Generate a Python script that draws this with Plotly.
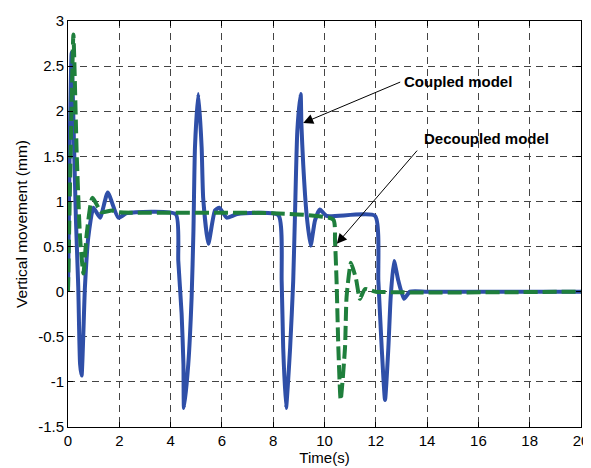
import plotly.graph_objects as go

# ---- data ----
coupled_t = [0, 0.07, 0.14, 0.22, 0.31, 0.4, 0.47, 0.53, 0.66, 0.79, 0.99, 1.25, 1.55, 1.96, 2.3,
             4.2, 4.3, 4.43, 4.5, 4.52, 4.69, 4.82, 4.89, 4.95, 5.08, 5.21, 5.27, 5.47, 5.73, 5.9, 6.19, 6.6,
             8.2, 8.33, 8.39, 8.5, 8.66, 8.78, 8.85, 8.94, 9.07, 9.1, 9.17, 9.3, 9.46, 9.63, 9.82, 10.08,
             11.97, 12.1, 12.23, 12.36, 12.49, 12.58, 12.71, 12.88, 13.1, 13.33, 14, 20]
coupled_y = [0, 1.71, 2.65, 1.8, 0.79, 0.05, -0.8, -0.93, 0.05, 0.6, 0.93, 0.82, 1.10, 0.82, 0.87,
             0.86, 0.34, -0.25, -0.8, -1.29, -0.8, -0.06, 0.67, 1.6, 2.19, 1.6, 1.04, 0.53, 0.9, 0.93, 0.82, 0.86,
             0.85, 0.12, -0.62, -1.29, -0.62, 0.12, 0.86, 1.78, 2.19, 1.85, 1.41, 0.86, 0.51, 0.79, 0.91, 0.84,
             0.84, 0.12, -0.62, -1.2, -0.62, -0.06, 0.34, 0.12, -0.08, 0.0, 0.0, 0.0]

decoupled_t = [0, 0.1, 0.21, 0.34, 0.47, 0.6, 0.73, 0.95, 1.31, 1.7, 2.0, 8.0, 10.34, 10.41, 10.47,
               10.54, 10.63, 10.8, 10.86, 11.03, 11.23, 11.38, 11.58, 12, 20]
decoupled_y = [0, 1.5, 2.85, 1.52, 0.6, 0.2, 0.64, 1.04, 0.88, 0.9, 0.88, 0.87, 0.80, 0.56, 0.12,
               -0.62, -1.2, -0.62, -0.06, 0.32, 0.14, -0.08, 0.03, 0.0, 0.0]

x_ticks = [0, 2, 4, 6, 8, 10, 12, 14, 16, 18, 20]
x_ticktext = ["0", "2", "4", "6", "8", "10", "12", "14", "16", "18", "20"]
y_ticks = [-1.5, -1, -0.5, 0, 0.5, 1, 1.5, 2, 2.5, 3]
y_ticktext = ["-1.5", "-1", "-0.5", "0", "0.5", "1", "1.5", "2", "2.5", "3"]

BLUE = "#2f4fa8"
GREEN = "#1f7f3c"
FONT = "Liberation Sans, Arial, sans-serif"

fig = go.Figure()
fig.add_trace(go.Scatter(x=coupled_t, y=coupled_y, mode="lines", name="Coupled model",
                         line=dict(color=BLUE, width=4, shape="spline", smoothing=0.5)))
fig.add_trace(go.Scatter(x=decoupled_t, y=decoupled_y, mode="lines", name="Decoupled model",
                         line=dict(color=GREEN, width=4, dash="14px,5px", shape="spline", smoothing=0.5)))

axis_common = dict(showline=True, linecolor="black", linewidth=1, mirror="ticks",
                   ticks="inside", ticklen=5, tickcolor="black", automargin=False,
                   showgrid=True, gridcolor="#444444", gridwidth=1, griddash="7px,5px",
                   zeroline=False, tickfont=dict(family=FONT, size=15, color="black"))

fig.update_xaxes(range=[0, 20], tickvals=x_ticks, ticktext=x_ticktext,
                 title=dict(text="Time(s)", font=dict(family=FONT, size=15, color="black"), standoff=4),
                 **axis_common)
fig.update_yaxes(range=[-1.5, 3], tickvals=y_ticks, ticktext=y_ticktext,
                 title=dict(text="Vertical movement (mm)", font=dict(family=FONT, size=15.5, color="black"), standoff=6),
                 **axis_common)

# annotation texts
fig.add_annotation(x=15.2, y=2.33, xref="x", yref="y", text="<b>Coupled model</b>", showarrow=False,
                   font=dict(family=FONT, size=15, color="black"))
fig.add_annotation(x=16.31, y=1.70, xref="x", yref="y", text="<b>Decoupled model</b>", showarrow=False,
                   font=dict(family=FONT, size=15, color="black"))
# arrows
fig.add_annotation(x=9.17, y=1.87, ax=13.01, ay=2.33, xref="x", yref="y", axref="x", ayref="y",
                   text="", showarrow=True, arrowhead=2, arrowsize=2, arrowwidth=1, arrowcolor="black")
fig.add_annotation(x=10.48, y=0.53, ax=13.66, ay=1.58, xref="x", yref="y", axref="x", ayref="y",
                   text="", showarrow=True, arrowhead=2, arrowsize=2, arrowwidth=1, arrowcolor="black")

# page body has an 8px default margin, so the figure is sized/offset to compensate
fig.update_layout(width=583, height=460, margin=dict(l=60, r=10, t=13, b=41),
                  paper_bgcolor="white", plot_bgcolor="white", showlegend=False,
                  font=dict(family=FONT, size=14, color="black"))

fig.write_html("out.html")
